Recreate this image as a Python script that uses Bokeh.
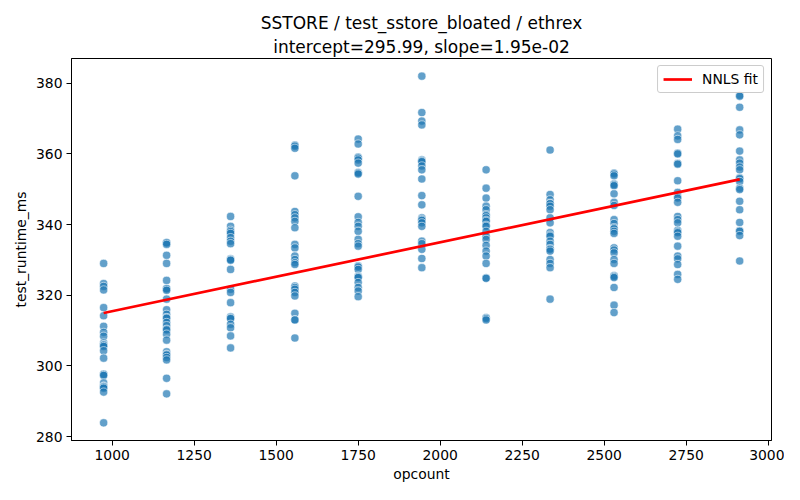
from bokeh.plotting import figure
from bokeh.models import Range1d, FixedTicker, Title, ColumnDataSource
from bokeh.embed import file_html
from bokeh.resources import INLINE

# ---- data ----
opcount_levels = [974, 1166, 1361, 1557, 1750, 1944, 2140, 2335, 2530, 2724, 2913]

runtime_974 = [329.0, 323.3, 322.5, 321.5, 316.5, 314.2, 311.2, 309.5, 308.4, 306.5, 306.0,
               305.9, 305.5, 304.3, 302.2, 297.7, 297.6, 297.3, 295.2, 294.3, 294.2, 294.0,
               293.7, 292.6, 283.9]
runtime_1166 = [334.9, 334.8, 334.4, 331.3, 329.0, 324.2, 321.9, 321.8, 321.4, 318.9, 315.9,
                314.6, 313.7, 313.5, 312.3, 311.4, 310.4, 310.2, 309.0, 307.3, 304.0, 303.3,
                303.1, 302.4, 301.7, 296.5, 292.1]
runtime_1361 = [342.3, 339.5, 338.4, 338.0, 337.5, 336.3, 335.3, 334.6, 330.3, 330.1, 329.9,
                327.3, 321.7, 320.8, 317.9, 313.9, 313.6, 313.4, 311.8, 310.8, 308.5, 305.1]
runtime_1557 = [362.5, 362.2, 361.6, 353.8, 343.7, 342.8, 341.9, 340.9, 339.1, 334.4, 333.4,
                331.1, 330.1, 329.2, 328.7, 322.6, 322.2, 321.7, 320.8, 319.8, 314.9, 313.1,
                313.0, 307.9]
runtime_1750 = [364.2, 362.8, 359.1, 358.8, 358.3, 357.4, 354.8, 354.6, 354.3, 348.0, 342.2,
                340.6, 339.5, 338.1, 335.8, 334.6, 333.9, 328.3, 328.0, 327.3, 325.4, 325.2,
                325.0, 323.6, 322.2, 321.2, 319.6]
runtime_1944 = [382.0, 371.7, 369.3, 368.2, 358.3, 358.0, 357.8, 356.6, 355.5, 352.9, 348.2,
                345.6, 341.9, 341.5, 341.2, 340.5, 339.5, 335.3, 334.6, 333.0, 330.4, 327.8]
runtime_2140 = [355.5, 350.3, 347.5, 345.2, 344.2, 342.8, 342.5, 341.9, 341.2, 340.9, 339.8,
                339.5, 338.1, 336.7, 335.8, 334.1, 332.5, 331.1, 329.0, 324.9, 324.8, 313.7,
                313.4, 313.0]
runtime_2335 = [361.1, 348.5, 347.0, 346.0, 345.9, 345.2, 344.2, 341.9, 340.5, 337.7, 337.0,
                336.7, 335.3, 334.4, 333.2, 333.0, 332.5, 330.1, 329.0, 327.8, 318.9]
runtime_2530 = [354.6, 354.3, 353.8, 351.5, 351.3, 351.0, 348.7, 346.3, 345.4, 341.4, 340.3,
                339.1, 338.8, 338.1, 337.5, 333.4, 332.8, 332.0, 330.1, 329.0, 325.6, 325.3,
                325.0, 322.2, 317.2, 315.1]
runtime_2724 = [367.0, 365.1, 364.1, 360.2, 360.0, 357.3, 357.1, 352.4, 349.1, 347.8, 347.5,
                346.3, 342.3, 341.4, 340.5, 338.4, 338.0, 337.7, 336.7, 333.9, 331.1, 330.3,
                328.7, 325.9, 324.5]
runtime_2913 = [376.6, 376.3, 373.2, 366.8, 365.4, 360.8, 358.3, 357.4, 356.3, 355.5, 353.2,
                353.0, 352.2, 350.3, 349.9, 346.6, 344.2, 340.6, 338.3, 338.1, 336.9, 329.7]

runtimes = [runtime_974, runtime_1166, runtime_1361, runtime_1557, runtime_1750, runtime_1944,
            runtime_2140, runtime_2335, runtime_2530, runtime_2724, runtime_2913]

fit_intercept = 295.99
fit_slope = 1.95e-02

x_ticks = [1000, 1250, 1500, 1750, 2000, 2250, 2500, 2750, 3000]
y_ticks = [280, 300, 320, 340, 360, 380]

title_line1 = "SSTORE / test_sstore_bloated / ethrex"
title_line2 = "intercept=295.99, slope=1.95e-02"

# ---- build ----
xs, ys = [], []
for oc, vals in zip(opcount_levels, runtimes):
    xs.extend([oc] * len(vals))
    ys.extend(vals)

fit_x = [min(opcount_levels), max(opcount_levels)]
fit_y = [fit_intercept + fit_slope * v for v in fit_x]

FONT = "DejaVu Sans"

p = figure(width=784, height=484, output_backend="svg", toolbar_location=None,
           x_range=Range1d(876, 3010), y_range=Range1d(278.9, 387.0),
           min_border_left=71, min_border_right=13, min_border_top=58, min_border_bottom=42,
           background_fill_color="white", border_fill_color="white")
p.title.visible = False

t2 = Title(text=title_line2, align="center", text_font=FONT, text_font_size="17px",
           text_font_style="normal", text_color="black", standoff=4)
t1 = Title(text=title_line1, align="center", text_font=FONT, text_font_size="17px",
           text_font_style="normal", text_color="black", standoff=0)
p.add_layout(t2, "above")
p.add_layout(t1, "above")

p.grid.visible = False
p.outline_line_color = "black"
p.outline_line_alpha = 1
p.outline_line_width = 1

for ax in (p.xaxis[0], p.yaxis[0]):
    ax.major_tick_out = 5
    ax.major_tick_in = 0
    ax.minor_tick_out = 0
    ax.minor_tick_in = 0
    ax.major_label_text_font = FONT
    ax.major_label_text_font_size = "13.9px"
    ax.major_label_text_color = "black"
    ax.axis_label_text_font = FONT
    ax.axis_label_text_font_size = "13.9px"
    ax.axis_label_text_font_style = "normal"
    ax.axis_label_text_color = "black"
    ax.axis_line_color = "black"
    ax.major_tick_line_color = "black"
    ax.major_label_standoff = 4

p.xaxis.ticker = FixedTicker(ticks=x_ticks)
p.yaxis.ticker = FixedTicker(ticks=y_ticks)
p.xaxis.axis_label = "opcount"
p.yaxis.axis_label = "test_runtime_ms"
p.xaxis.axis_label_standoff = 3
p.yaxis.axis_label_standoff = 4

src = ColumnDataSource(dict(x=xs, y=ys))
p.scatter("x", "y", source=src, size=8.2, fill_color="#1f77b4", fill_alpha=0.7,
          line_color="white", line_alpha=0.7, line_width=0.8)

p.line(fit_x, fit_y, line_color="red", line_width=2.7, legend_label="NNLS fit")

lg = p.legend[0]
lg.location = "top_right"
lg.margin = 7
lg.padding = 5
lg.spacing = 0
lg.glyph_width = 29
lg.glyph_height = 14
lg.label_height = 14
lg.label_standoff = 10
lg.label_text_font = FONT
lg.label_text_font_size = "13.9px"
lg.label_text_color = "black"
lg.border_line_color = "#cccccc"
lg.border_line_alpha = 1
lg.border_line_width = 1
lg.background_fill_alpha = 0.8
lg.border_radius = 3

open("out.html", "w").write(file_html(p, INLINE))
